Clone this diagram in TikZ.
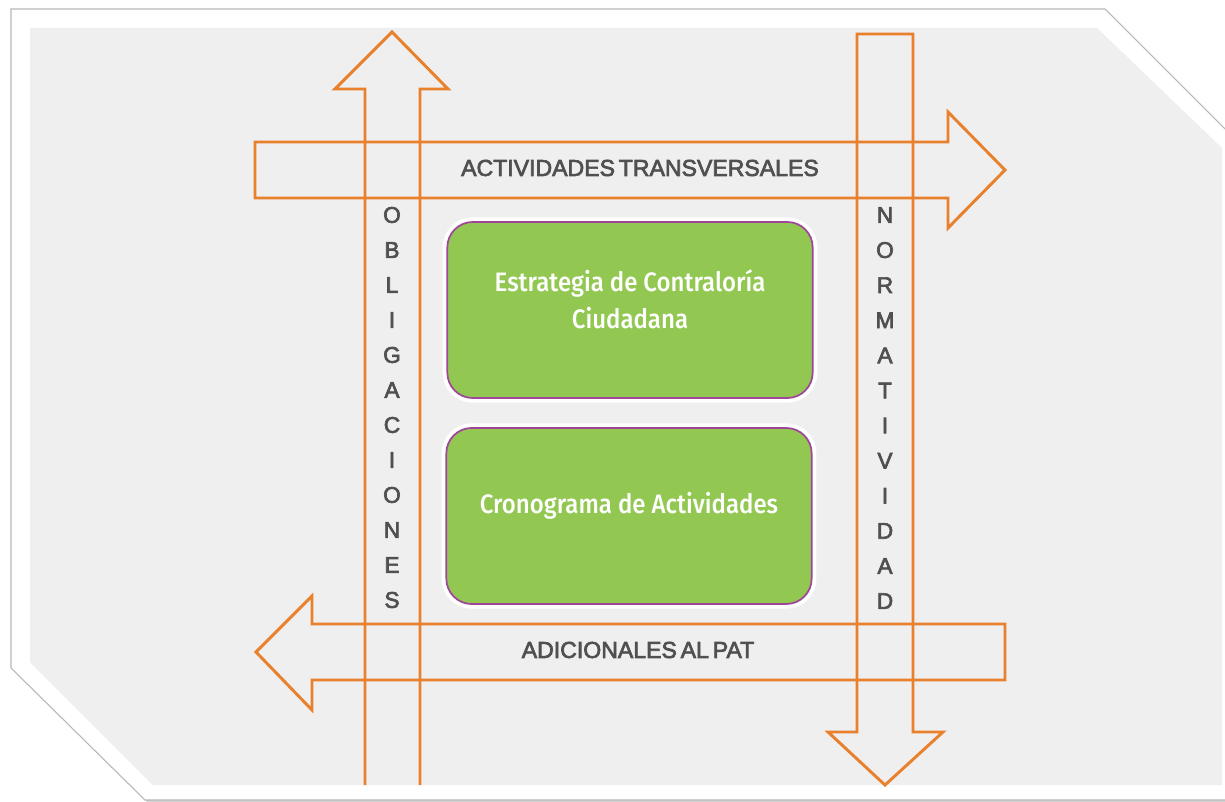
\documentclass[tikz,border=0pt]{standalone}
\usepackage{fontspec}
\setmainfont{Fira Sans}
\newfontfamily\labelfont[FakeBold=3, WordSpace=0.6]{Liberation Sans}
\newfontfamily\narrowmed[FakeStretch=0.9]{Fira Sans Medium}
\usepackage{tikz}
\usetikzlibrary{shadows,positioning}
\definecolor{arroworange}{HTML}{E8802C}
\definecolor{panelgray}{HTML}{EFEFEF}
\definecolor{framegray}{HTML}{B8B8B8}
\definecolor{labelgray}{HTML}{505050}
\definecolor{boxgreen}{HTML}{92C852}
\definecolor{boxpurple}{HTML}{A0469A}

\tikzset{
  flecha/.style={draw=arroworange, line width=2.2pt, line join=miter},
  rotulo/.style={text=labelgray, font=\labelfont\fontsize{17.3}{20}\selectfont, inner sep=0pt},
  letra/.style={text=labelgray, font=\labelfont\fontsize{17}{20}\selectfont, inner sep=0pt},
  cajaverde/.style={rectangle, rounded corners=19pt, fill=boxgreen, draw=boxpurple,
    line width=1.3pt, minimum width=274pt, minimum height=132pt, inner sep=0pt,
    preaction={draw=white, line width=7pt, drop shadow={opacity=0.25, shadow xshift=1.5pt, shadow yshift=-1.5pt}}},
  textocaja/.style={text=white, font=\narrowmed\fontsize{20}{28}\selectfont, align=center, inner sep=0pt}
}

\begin{document}
\begin{tikzpicture}[x=0.75pt, y=-0.75pt]
	\useasboundingbox (0,0) rectangle (1225,802);
	% marco exterior y panel
	\draw[draw=framegray, fill=white, line width=0.8pt, drop shadow={opacity=0.35, shadow xshift=2pt, shadow yshift=-2pt}]
	  (11,9) -- (1105,9) -- (1230,134) -- (1230,800) -- (145,800) -- (11,668) -- cycle;
	\fill[panelgray] (30,28) -- (1097,28) -- (1222,148) -- (1222,785) -- (153,785) -- (30,662) -- cycle;

	% flechas
	\draw[flecha] (365,785) -- (365,89) -- (335,89) -- (392,32) -- (448,89) -- (420,89) -- (420,785);
	\draw[flecha] (255,142) -- (948,142) -- (948,112) -- (1005,170) -- (948,228) -- (948,198) -- (255,198) -- cycle;
	\draw[flecha] (857,34) -- (913,34) -- (913,732) -- (943,732) -- (885,785) -- (828,732) -- (857,732) -- cycle;
	\draw[flecha] (1005,624) -- (312,624) -- (312,596) -- (256,652) -- (312,710) -- (312,680) -- (1005,680) -- cycle;

	\node[rotulo] (transversales) at (640,168) {ACTIVIDADES TRANSVERSALES};
	\node[rotulo] (adicionales) at (638,650) {ADICIONALES AL PAT};
	\foreach \l [count=\i] in {O,B,L,I,G,A,C,I,O,N,E,S}
	  \node[letra] (oblig\i) at (392,{215+35*(\i-1)}) {\l};
	\foreach \l [count=\i] in {N,O,R,M,A,T,I,V,I,D,A,D}
	  \node[letra] (norma\i) at (885,{215+35.1*(\i-1)}) {\l};

	% cajas
	\node[cajaverde] (estrategia) at (630,310) {};
	\node[textocaja] (estrategiatxt) at ([yshift=8pt]estrategia.center) {Estrategia de Contraloría\\Ciudadana};
	\node[cajaverde] (cronograma) at (629,516) {};
	\node[textocaja] (cronogramatxt) at ([yshift=8pt]cronograma.center) {Cronograma de Actividades};
\end{tikzpicture}
\end{document}
